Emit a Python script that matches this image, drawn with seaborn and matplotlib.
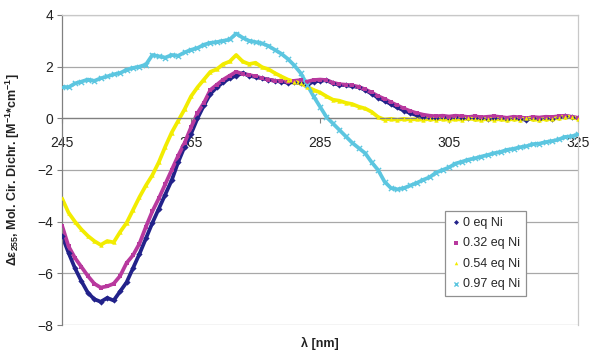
import matplotlib
matplotlib.use("Agg")
import matplotlib.pyplot as plt
import pandas as pd
import seaborn as sns

# CD spectra, one value per nm from 245 to 325 nm
wavelength = list(range(245, 326))

eq_0 = [-4.55, -5.2, -5.8, -6.3, -6.75, -7.0, -7.1, -6.95, -7.05, -6.7,
        -6.35, -5.8, -5.25, -4.65, -4.05, -3.5, -2.95, -2.4, -1.7, -1.1,
        -0.6, 0.0, 0.5, 0.95, 1.2, 1.4, 1.55, 1.65, 1.75, 1.65,
        1.6, 1.55, 1.5, 1.45, 1.42, 1.38, 1.4, 1.35, 1.3, 1.42,
        1.45, 1.48, 1.35, 1.3, 1.28, 1.25, 1.2, 1.1, 0.95, 0.8,
        0.68, 0.55, 0.42, 0.3, 0.2, 0.12, 0.05, 0.0, 0.02, 0.05,
        0.03, 0.05, 0.02, 0.0, 0.03, 0.0, -0.02, 0.0, 0.02, -0.02,
        0.0, -0.03, -0.05, 0.0, -0.02, 0.02, -0.02, 0.05, 0.08, 0.05,
        0.0]

eq_032 = [-4.15, -4.95, -5.4, -5.75, -6.1, -6.4, -6.55, -6.5, -6.4, -6.1,
          -5.6, -5.3, -4.85, -4.2, -3.6, -3.1, -2.55, -2.0, -1.45, -0.95,
          -0.35, 0.2, 0.6, 1.1, 1.3, 1.5, 1.65, 1.8, 1.72, 1.68,
          1.62, 1.55, 1.5, 1.45, 1.43, 1.42, 1.45, 1.48, 1.42, 1.48,
          1.5, 1.48, 1.38, 1.32, 1.3, 1.27, 1.22, 1.12, 1.0, 0.86,
          0.75, 0.62, 0.5, 0.38, 0.28, 0.2, 0.14, 0.1, 0.08, 0.1,
          0.07, 0.1, 0.08, 0.05, 0.08, 0.04, 0.06, 0.08, 0.05, 0.02,
          0.06, 0.04, 0.0, 0.05, 0.03, 0.06, 0.05, 0.08, 0.1, 0.06,
          0.02]

eq_054 = [-3.1, -3.65, -4.0, -4.3, -4.55, -4.75, -4.9, -4.75, -4.8, -4.4,
          -4.05, -3.55, -3.05, -2.6, -2.2, -1.7, -1.1, -0.55, -0.1, 0.35,
          0.85, 1.2, 1.5, 1.8, 1.9, 2.1, 2.2, 2.45, 2.2, 2.1,
          2.15, 1.98, 1.9, 1.75, 1.62, 1.5, 1.42, 1.35, 1.22, 1.1,
          1.0, 0.85, 0.72, 0.68, 0.6, 0.55, 0.45, 0.38, 0.25, 0.05,
          -0.05, -0.02, -0.06, -0.02, -0.05, -0.03, -0.06, -0.02, -0.05, -0.02,
          -0.06, -0.03, -0.05, 0.0, -0.04, -0.06, -0.02, -0.05, -0.03, -0.07,
          -0.02, -0.05, 0.0, -0.04, -0.06, -0.02, -0.03, 0.02, 0.06, 0.05,
          -0.02]

eq_097 = [1.22, 1.2, 1.35, 1.42, 1.5, 1.45, 1.55, 1.62, 1.7, 1.75,
          1.88, 1.95, 2.0, 2.08, 2.45, 2.4, 2.35, 2.45, 2.42, 2.55,
          2.65, 2.72, 2.85, 2.92, 2.95, 3.0, 3.05, 3.28, 3.12, 3.0,
          2.95, 2.9, 2.8, 2.65, 2.5, 2.3, 2.05, 1.75, 1.3, 0.85,
          0.45, 0.05, -0.2, -0.45, -0.7, -0.95, -1.15, -1.35, -1.7, -2.0,
          -2.45, -2.7, -2.75, -2.7, -2.6, -2.5, -2.38, -2.28, -2.1, -2.0,
          -1.9, -1.75, -1.68, -1.6, -1.55, -1.48, -1.42, -1.35, -1.3, -1.22,
          -1.18, -1.12, -1.08, -1.0, -0.98, -0.92, -0.88, -0.82, -0.72, -0.7,
          -0.62]

series_names = ["0 eq Ni", "0.32 eq Ni", "0.54 eq Ni", "0.97 eq Ni"]
series_colors = ["#22228a", "#b8399e", "#f2ec00", "#5cc6e0"]
series_markers = ["D", "s", "^", "x"]

x_ticks = [245, 265, 285, 305, 325]
y_ticks = [-8, -6, -4, -2, 0, 2, 4]

sns.set_style("white")
plt.rcParams["font.family"] = ["Liberation Sans", "DejaVu Sans"]
plt.rcParams["mathtext.fontset"] = "custom"
plt.rcParams["mathtext.bf"] = "Liberation Sans:bold"
plt.rcParams["mathtext.rm"] = "Liberation Sans:bold"
plt.rcParams["mathtext.default"] = "bf"

fig = plt.figure(figsize=(5.91, 3.56), dpi=100)
ax = fig.add_axes([0.105, 0.087, 0.873, 0.871])

for name, vals, col, mk in zip(series_names, [eq_0, eq_032, eq_054, eq_097],
                               series_colors, series_markers):
    df = pd.DataFrame({"wl": wavelength, "cd": vals})
    sns.lineplot(data=df, x="wl", y="cd", color=col, lw=2.7, ax=ax, legend=False)
    if mk == "x":
        sns.scatterplot(data=df, x="wl", y="cd", color=col, marker=mk, s=14,
                        linewidth=1.0, label=name, ax=ax, zorder=3)
    else:
        sns.scatterplot(data=df, x="wl", y="cd", color=col, marker=mk, s=10,
                        linewidth=0, label=name, ax=ax, zorder=3)

ax.set_xlim(245, 325)
ax.set_ylim(-8, 4)
ax.set_xticks(x_ticks)
ax.set_yticks(y_ticks)
ax.yaxis.grid(True, color="#a8a8a8", lw=0.9)
ax.set_axisbelow(True)

# excel style: x axis crossing at zero
ax.spines["bottom"].set_position(("data", 0))
ax.spines["bottom"].set_color("#808080")
ax.spines["left"].set_color("#808080")
ax.spines["right"].set_color("#c8c8c8")
ax.spines["top"].set_color("#c8c8c8")
for s in ax.spines.values():
    s.set_linewidth(0.9)

ax.tick_params(axis="x", direction="out", length=3.5, width=0.8, color="#808080",
               pad=9, labelsize=10, labelcolor="#222222")
ax.tick_params(axis="y", direction="out", length=3.5, width=0.8, color="#808080",
               pad=3, labelsize=10, labelcolor="#222222")
ax.tick_params(bottom=True, left=True)

ax.set_xlabel(r"λ [nm]", fontsize=9, fontweight="bold", color="#222222")
ax.xaxis.set_label_coords(0.5, -0.04, transform=ax.transAxes)
ax.set_ylabel(r"Δε$_{255}$, Mol. Cir. Dichr. [M$^{-1}$*cm$^{-1}$]",
              fontsize=9, fontweight="bold", color="#222222")
ax.yaxis.set_label_coords(-0.077, 0.5)

leg = ax.legend(loc="upper left", bbox_to_anchor=(0.742, 0.368), fontsize=9,
                frameon=True, fancybox=False, framealpha=1, edgecolor="#909090",
                borderpad=0.45, labelspacing=0.68, handletextpad=0.2,
                handlelength=0.8, markerscale=0.8, borderaxespad=0)
leg.get_frame().set_linewidth(0.9)

fig.savefig("out.png", dpi=100)
